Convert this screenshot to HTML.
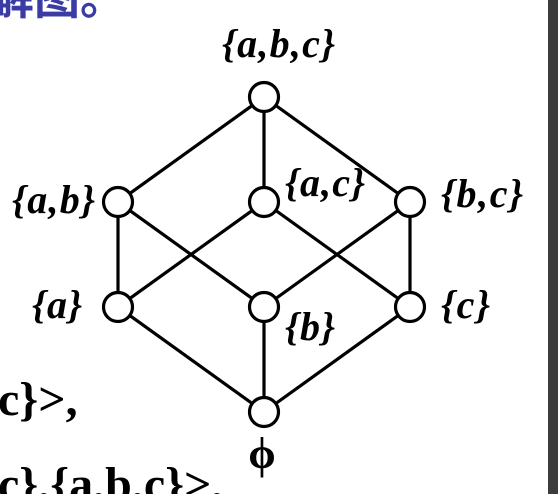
<!DOCTYPE html>
<html><head><meta charset="utf-8"><style>
html,body{margin:0;padding:0;background:#fff;width:558px;height:494px;overflow:hidden}
svg{display:block}
.lb{font-family:"Liberation Serif",serif;font-style:italic;font-weight:bold;font-size:40px;fill:#000}
.tx{font-family:"Liberation Serif","Noto Serif CJK SC",serif;font-weight:bold;font-size:48px;fill:#000}
</style></head><body>
<svg width="558" height="494" viewBox="0 0 558 494">
<text x="-12" y="14" font-family="'Liberation Sans','Noto Sans CJK SC',sans-serif" font-weight="bold" font-size="46" fill="#3b3ba6">解图。</text>
<g id="edges" stroke="#000" stroke-width="3.2" fill="none"></g>
<g id="nodes"></g>
<text class="lb" x="222" y="57" textLength="113">{a,b,c}</text>
<text class="lb" x="12" y="213" textLength="83">{a,b}</text>
<text class="lb" x="285" y="196" textLength="80">{a,c}</text>
<text class="lb" x="441" y="207" textLength="82">{b,c}</text>
<text class="lb" x="32" y="318" textLength="50">{a}</text>
<text class="lb" x="285" y="340" textLength="50">{b}</text>
<text class="lb" x="441" y="318" textLength="49">{c}</text>
<text x="262" y="468" text-anchor="middle" font-family="'Liberation Serif',serif" font-weight="bold" font-size="44">ϕ</text>
<text class="tx" x="-2" y="415">c}&gt;,</text>
<text class="tx" x="-2" y="500">c},{a,b,c}&gt;,</text>
<rect x="548" y="0" width="10" height="494" fill="#3c3c3c"/>
<script>
var nodeNames=["abc","ab","ac","bc","a","b","c","empty"];
var nodeCol=[1,0,1,2,0,1,2,1];
var nodeLevel=[3,2,2,2,1,1,1,0];
var edgeFrom=["abc","abc","abc","ab","ab","ac","ac","bc","bc","a","b","c"];
var edgeTo=["ab","ac","bc","a","b","a","c","b","c","empty","empty","empty"];
function xs(c){return 118+c*146;}
function ys(l){return 412-l*105;}
var ns="http://www.w3.org/2000/svg";
var pos={};
nodeNames.forEach(function(n,i){pos[n]=[xs(nodeCol[i]),ys(nodeLevel[i])];});
var eg=document.getElementById('edges');
edgeFrom.forEach(function(f,i){
var l=document.createElementNS(ns,'line');
l.setAttribute('x1',pos[f][0]);l.setAttribute('y1',pos[f][1]);
l.setAttribute('x2',pos[edgeTo[i]][0]);l.setAttribute('y2',pos[edgeTo[i]][1]);


eg.appendChild(l);});
var ng=document.getElementById('nodes');
nodeNames.forEach(function(n){
var c=document.createElementNS(ns,'circle');
c.setAttribute('cx',pos[n][0]);c.setAttribute('cy',pos[n][1]);c.setAttribute('r',14.5);
c.setAttribute('fill','#fff');c.setAttribute('stroke','#000');c.setAttribute('stroke-width','3.2');


ng.appendChild(c);});
</script>
</svg>
</body></html>
